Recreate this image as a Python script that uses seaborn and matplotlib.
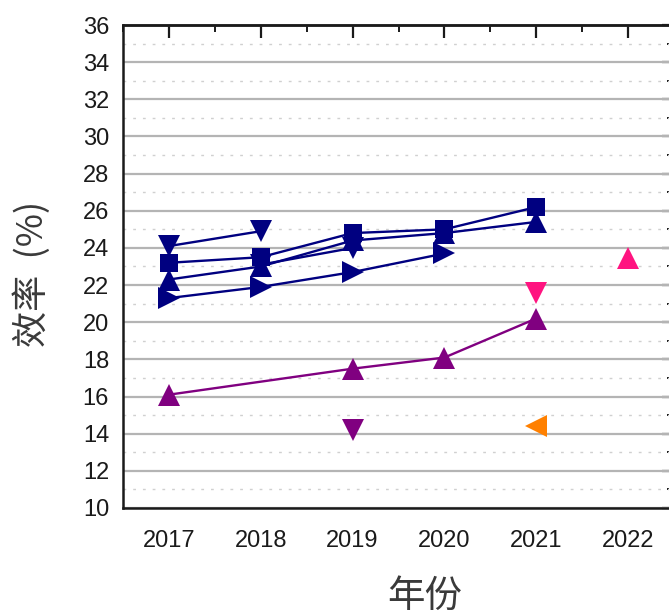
import matplotlib
matplotlib.use("Agg")
import matplotlib.pyplot as plt
import seaborn as sns
import pandas as pd
from matplotlib.ticker import MultipleLocator

# ---- data ----
year_ticks = [2017, 2018, 2019, 2020, 2021, 2022]

sq_years = [2017, 2018, 2019, 2020, 2021]
sq_vals = [23.2, 23.5, 24.8, 25.0, 26.2]

vb_years = [2017, 2018]
vb_vals = [24.1, 24.9]

up_years = [2017, 2018, 2019, 2020, 2021]
up_vals = [22.3, 23.0, 24.4, 24.8, 25.4]

ve_years = [2018, 2019]
ve_vals = [23.1, 24.0]

rt_years = [2017, 2018, 2019, 2020]
rt_vals = [21.3, 21.9, 22.7, 23.7]

pu_years = [2017, 2019, 2020, 2021]
pu_vals = [16.1, 17.5, 18.1, 20.2]

pd_years = [2019]
pd_vals = [14.2]

pk_down_years = [2021]
pk_down_vals = [21.6]

pk_up_years = [2022]
pk_up_vals = [23.45]

or_years = [2021]
or_vals = [14.4]

NAVY = "#000080"
PURPLE = "#800080"
PINK = "#ff1480"
ORANGE = "#ff8000"

series = [
    (sq_years, sq_vals, "s", NAVY, 13),
    (vb_years, vb_vals, "v", NAVY, 16),
    (up_years, up_vals, "^", NAVY, 16),
    (ve_years, ve_vals, "v", NAVY, 16),
    (rt_years, rt_vals, ">", NAVY, 16),
    (pu_years, pu_vals, "^", PURPLE, 16),
    (pd_years, pd_vals, "v", PURPLE, 16),
    (pk_down_years, pk_down_vals, "v", PINK, 16),
    (pk_up_years, pk_up_vals, "^", PINK, 16),
    (or_years, or_vals, "<", ORANGE, 16),
]

sns.set_theme(style="white")
plt.rcParams["font.family"] = ["Liberation Sans", "Noto Sans CJK SC", "DejaVu Sans"]

fig = plt.figure(figsize=(6.69, 6.16), dpi=100)
ax = fig.add_axes([123 / 669, 108 / 616, 551 / 669, 483 / 616])

for xs, ys, mk, col, ms in series:
    df = pd.DataFrame({"year": xs, "eff": ys})
    sns.lineplot(data=df, x="year", y="eff", ax=ax, color=col, marker=mk,
                 markersize=ms, markeredgecolor=col, markeredgewidth=0,
                 linewidth=1.7, zorder=5)

ax.set_xlim(2016.5, 2022.5)
ax.set_ylim(10, 36)
ax.xaxis.set_major_locator(MultipleLocator(1))
ax.xaxis.set_minor_locator(MultipleLocator(0.5))
ax.yaxis.set_major_locator(MultipleLocator(2))
ax.yaxis.set_minor_locator(MultipleLocator(1))
ax.set_xticks(year_ticks)
ax.set_xticklabels([str(y) for y in year_ticks])

# grid
ax.grid(False)
ax.yaxis.grid(True, which="major", color="#b4b4b4", linewidth=1.6, linestyle="-", zorder=0)
ax.yaxis.grid(True, which="minor", color="#d0d0d0", linewidth=1.0, linestyle=(0, (2, 5)), zorder=0)
ax.set_axisbelow(True)

for s in ax.spines.values():
    s.set_color("#1a1a1a")
    s.set_linewidth(1.8)
    s.set_visible(True)

ax.tick_params(axis="both", which="major", direction="out", length=8, width=1.6,
               color="#1a1a1a", labelsize=17, labelcolor="#1a1a1a", pad=2)
ax.tick_params(axis="both", which="minor", direction="out", length=4, width=1.4,
               color="#1a1a1a")
ax.tick_params(axis="x", which="major", pad=8)

# mirrored inward ticks on top and right
top = ax.secondary_xaxis("top")
top.xaxis.set_major_locator(MultipleLocator(1))
top.xaxis.set_minor_locator(MultipleLocator(0.5))
top.tick_params(which="major", direction="in", length=9, width=1.6, color="#1a1a1a", labeltop=False)
top.tick_params(which="minor", direction="in", length=5, width=1.4, color="#1a1a1a")
top.spines["top"].set_linewidth(1.8)
right = ax.secondary_yaxis("right")
right.yaxis.set_major_locator(MultipleLocator(2))
right.yaxis.set_minor_locator(MultipleLocator(1))
right.tick_params(which="major", direction="in", length=9, width=1.6, color="#1a1a1a", labelright=False)
right.tick_params(which="minor", direction="in", length=5, width=1.4, color="#1a1a1a")

ax.set_xlabel("年份", fontsize=27, color="#3a3a3a",
              family=["Noto Sans CJK SC", "DejaVu Sans"], va="center")
ax.xaxis.set_label_coords((425 - 123) / 551, -(596 - 508) / 483)
ax.set_ylabel("效率  (%)", fontsize=26, color="#3a3a3a",
              family=["Noto Sans CJK SC", "DejaVu Sans"], va="center")
ax.yaxis.set_label_coords(-(123 - 32) / 551, (508 - 274) / 483)

fig.savefig("out.png", dpi=100)
